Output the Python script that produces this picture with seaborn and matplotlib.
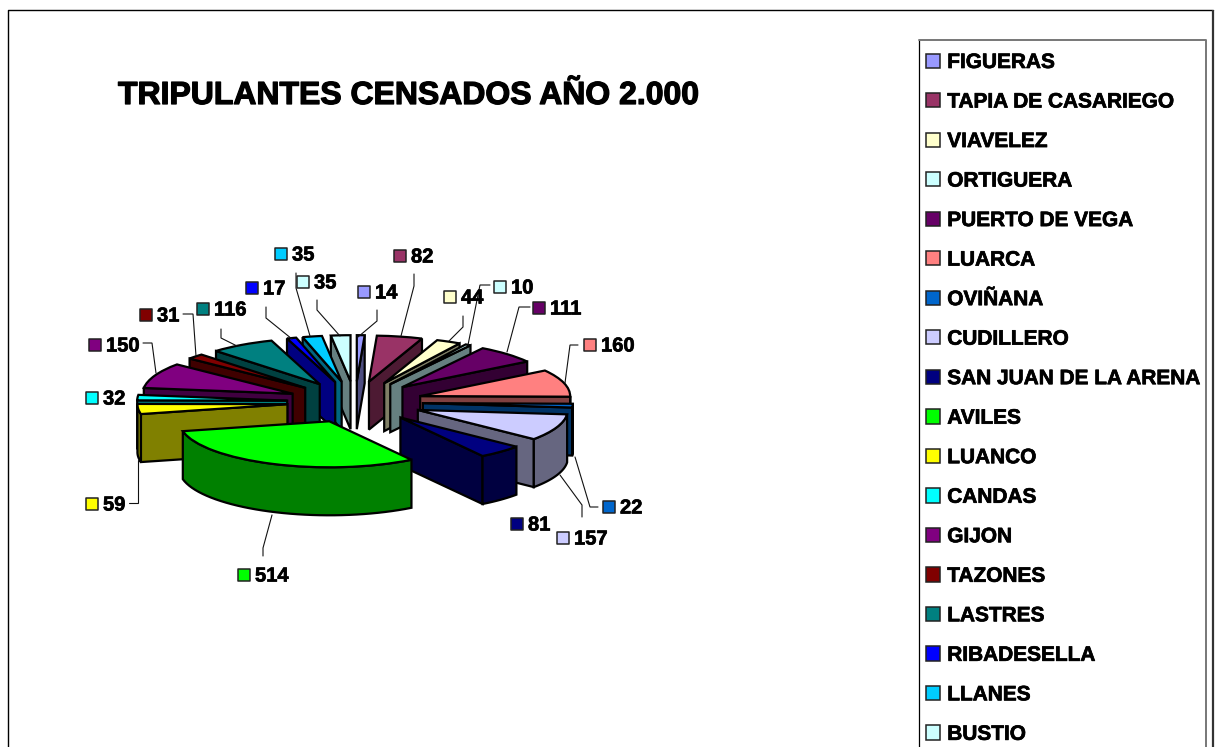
import numpy as np
import matplotlib
matplotlib.use('Agg')
import matplotlib.pyplot as plt
from matplotlib.patches import Patch, Polygon
import matplotlib.patheffects as pe
import seaborn as sns

towns = ['FIGUERAS', 'TAPIA DE CASARIEGO', 'VIAVELEZ', 'ORTIGUERA', 'PUERTO DE VEGA',
         'LUARCA', 'OVIÑANA', 'CUDILLERO', 'SAN JUAN DE LA ARENA', 'AVILES', 'LUANCO',
         'CANDAS', 'GIJON', 'TAZONES', 'LASTRES', 'RIBADESELLA', 'LLANES', 'BUSTIO']
crew = [14, 82, 44, 10, 111, 160, 22, 157, 81, 514, 59, 32, 150, 31, 116, 17, 35, 35]
hex_colors = ['#9999FF', '#993366', '#FFFFCC', '#CCFFFF', '#660066', '#FF8080', '#0066CC',
              '#CCCCFF', '#000080', '#00FF00', '#FFFF00', '#00FFFF', '#800080', '#800000',
              '#008080', '#0000FF', '#00CCFF', '#CCFFFF']

# label anchors in figure pixels (swatch centre), one per town
label_x = [364, 400, 450, 500, 539, 590, 609, 563, 517, 244, 92, 92, 95, 146, 203, 252, 281, 303]
label_y = [292, 256, 297, 287, 308, 345, 507, 538, 524, 575, 504, 398, 345, 315, 309, 288, 254, 282]
leaders = [[(377, 310), (377, 321), (358, 337)], [(414, 274), (414, 286), (401, 336)],
           [(463, 316), (463, 327), (449, 341)], [(490, 285), (480, 285), (468, 345)],
           [(530, 307), (519, 307), (507, 352)], [(578, 345), (570, 345), (565, 383)],
           [(598, 507), (590, 507), (575, 457)], [(582, 517), (582, 505), (560, 475)],
           [], [(272, 515), (263, 548), (263, 556)], [(129, 503), (138, 503), (138, 460)],
           [], [(143, 343), (152, 343), (156, 373)], [(183, 314), (193, 314), (196, 356)],
           [(221, 329), (221, 338), (237, 346)], [(266, 307), (266, 318), (292, 339)],
           [(296, 273), (296, 288), (310, 336)], [(317, 300), (317, 310), (340, 336)]]

W, H = 1217, 747
CX, CY = 355, 402      # pie centre in pixels
RX, RY = 150, 46       # pixels per data unit
EXPLODE = 0.453
DEPTH = 48 / RY

sns.set_theme(style='white')
plt.rcParams['font.family'] = ['Liberation Sans', 'DejaVu Sans']
palette = sns.color_palette(hex_colors)
shade = [tuple(c * 0.5 for c in col) for col in palette]

fig = plt.figure(figsize=(W / 100, H / 100), dpi=100, facecolor='white')

# pie axes, squashed so that the circle turns into the 3d ellipse
span_x, span_y = 2.3, 3.0
ax = fig.add_axes([(CX - span_x * RX) / W, 1 - (CY + span_y * RY) / H,
                   2 * span_x * RX / W, 2 * span_y * RY / H])
wedges, _ = ax.pie(crew, colors=palette, startangle=90, counterclock=False, radius=1,
                   explode=[EXPLODE] * len(crew),
                   wedgeprops={'edgecolor': 'black', 'linewidth': 1.6})
ax.set_aspect('auto')
ax.set_xlim(-span_x, span_x)
ax.set_ylim(-span_y, span_y)
ax.axis('off')

edges = np.cumsum([0] + crew) / sum(crew) * 360
mids = (edges[:-1] + edges[1:]) / 2
draw_rank = np.argsort(np.argsort(-np.cos(np.radians(mids))))


def point(angle, off):
    a = np.radians(angle)
    return off[0] + np.sin(a), off[1] + np.cos(a)


for i, wedge in enumerate(wedges):
    z = 10 + 3 * draw_rank[i]
    wedge.set_zorder(z)
    start, end = edges[i], edges[i + 1]
    m = np.radians(mids[i])
    off = (EXPLODE * np.sin(m), EXPLODE * np.cos(m))
    style = dict(facecolor=shade[i], edgecolor='black', linewidth=1.6, zorder=z - 1)
    # cut walls that face the viewer
    for ang, visible in ((end, 0 < end < 180), (start, 180 < start < 360)):
        if visible:
            px, py = point(ang, off)
            ax.add_patch(Polygon([off, (px, py), (px, py - DEPTH), (off[0], off[1] - DEPTH)], **style))
    # outer rim
    lo, hi = max(start, 90), min(end, 270)
    if lo < hi:
        arc = np.linspace(lo, hi, 40)
        xs = off[0] + np.sin(np.radians(arc))
        ys = off[1] + np.cos(np.radians(arc))
        rim = np.r_[np.c_[xs, ys], np.c_[xs, ys - DEPTH][::-1]]
        ax.add_patch(Polygon(rim, **style))

# overlay in figure pixels for the frame, title, labels and legend
ov = fig.add_axes([0, 0, 1, 1], facecolor='none')
ov.set_xlim(0, W)
ov.set_ylim(H, 0)
ov.axis('off')

# chart frame, heavier on the right like the original shadow
ov.plot([8, 8, 1213], [H + 5, 10, 10], color='black', linewidth=1.0, clip_on=False)
ov.plot([1213, 1213], [10, H + 5], color='#333333', linewidth=1.6, clip_on=False,
        solid_capstyle='butt')
# legend box runs off the bottom of the picture
ov.plot([919, 919], [40, H + 5], color='black', linewidth=0.9, clip_on=False)
ov.plot([919, 1206, 1206], [40, 40, H + 5], color='#777777', linewidth=1.4, clip_on=False)

bold = [pe.withStroke(linewidth=0.5, foreground='black')]
ov.text(118, 104, 'TRIPULANTES CENSADOS AÑO 2.000', fontsize=23, fontweight='bold',
        color='black', va='baseline', ha='left',
        path_effects=[pe.withStroke(linewidth=0.9, foreground='black')])

for path in leaders:
    if path:
        ov.plot(*zip(*path), color='#111111', linewidth=0.8, solid_joinstyle='miter')
ov.scatter(label_x, label_y, s=80, marker='s', c=palette, edgecolors='#222222', linewidths=1.1, zorder=5)
for x, y, value in zip(label_x, label_y, crew):
    ov.text(x + 11, y + 1, str(value), fontsize=14.5, fontweight='bold', color='black',
            va='center', ha='left', path_effects=bold)

handles = [Patch(facecolor=c, edgecolor='#222222', linewidth=1.1) for c in palette]
leg = ov.legend(handles, towns, loc='upper left', bbox_to_anchor=(926 / W, 1 - 53 / H),
                bbox_transform=fig.transFigure, borderaxespad=0, frameon=False,
                ncol=1, handlelength=0.68, handleheight=0.68, handletextpad=0.34,
                labelspacing=0.985, borderpad=0, labelcolor='black',
                prop={'family': 'Liberation Sans', 'weight': 'bold', 'size': 15})
for label in leg.get_texts():
    label.set_path_effects(bold)

sns.despine(ax=ov, left=True, bottom=True)
fig.savefig('out.png', dpi=100)
